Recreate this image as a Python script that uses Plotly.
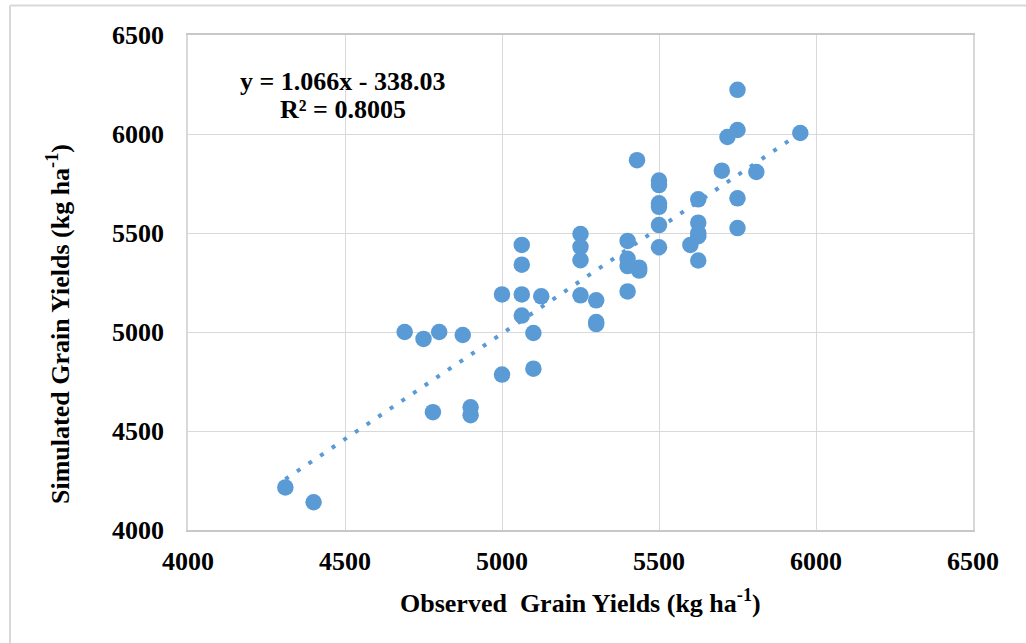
import plotly.graph_objects as go

# Observed vs simulated grain yields (kg ha-1)
observed = [4310, 4400, 4690, 4750, 4800, 4875, 4780, 4900, 4900, 5000,
            5100, 5100, 5000, 5063, 5063, 5125, 5063, 5063, 5300, 5300,
            5300, 5250, 5250, 5250, 5250, 5400, 5400, 5400, 5437, 5437,
            5400, 5430, 5500, 5500, 5500, 5500, 5500, 5500, 5600, 5625,
            5625, 5625, 5625, 5625, 5700, 5718, 5750, 5750, 5750, 5750,
            5810, 5950]
simulated = [4215, 4140, 5000, 4965, 5000, 4985, 4595, 4620, 4580, 4785,
             4815, 4995, 5190, 5190, 5083, 5180, 5340, 5440, 5160, 5050,
             5040, 5495, 5430, 5363, 5185, 5460, 5370, 5333, 5325, 5310,
             5205, 5868, 5765, 5742, 5650, 5632, 5540, 5428, 5440, 5670,
             5552, 5500, 5484, 5361, 5815, 5985, 6020, 6223, 5675, 5525,
             5808, 6005]

# Linear trend reported on the chart
slope = 1.066
intercept = -338.03
r_squared = 0.8005

axis_ticks = [4000, 4500, 5000, 5500, 6000, 6500]

BLUE = "#5B9BD5"
GRID = "#D9D9D9"
FONT = "Liberation Serif"

trend_x = [min(observed), max(observed)]
trend_y = [slope * v + intercept for v in trend_x]

fig = go.Figure()
fig.add_trace(go.Scatter(
    x=trend_x, y=trend_y, mode="lines",
    line=dict(color=BLUE, width=4, dash="4px,10px"),
    hoverinfo="skip", showlegend=False,
))
fig.add_trace(go.Scatter(
    x=observed, y=simulated, mode="markers",
    marker=dict(color=BLUE, size=16.5, line=dict(width=0)),
    showlegend=False,
))

W, H = 1026, 643
L, R, T, B = 188, 53, 35, 113
pw, ph = W - L - R, H - T - B


def px_x(p):
    return (p - L) / pw


def px_y(p):
    return (H - B - p) / ph


tick_font = dict(family=FONT, size=26, color="#000000", weight="bold")
label_font = dict(family=FONT, size=26, color="#000000")

fig.update_layout(
    width=W, height=H,
    margin=dict(l=L, r=R, t=T, b=B, pad=0),
    paper_bgcolor="white", plot_bgcolor="white",
    font=dict(family=FONT, color="#000000"),
    xaxis=dict(
        range=[axis_ticks[0], axis_ticks[-1]], tickvals=axis_ticks,
        ticktext=[str(t) for t in axis_ticks],
        showgrid=True, gridcolor=GRID, gridwidth=1.3,
        showline=True, linecolor="#C8C8C8", linewidth=1.5, mirror=True,
        zeroline=False, ticks="", ticklabelstandoff=7,
        tickfont=tick_font,
    ),
    yaxis=dict(
        range=[axis_ticks[0], axis_ticks[-1]], tickvals=axis_ticks,
        ticktext=[str(t) for t in axis_ticks],
        showgrid=True, gridcolor=GRID, gridwidth=1.3,
        showline=True, linecolor=GRID, linewidth=1.5, mirror=True,
        zeroline=False, ticks="", ticklabelstandoff=17,
        tickfont=tick_font,
    ),
    annotations=[
        dict(text=f"<b>y = {slope}x - {abs(intercept):.2f}</b>",
             xref="paper", yref="paper", x=px_x(342), y=px_y(82),
             xanchor="center", yanchor="middle", showarrow=False,
             font=label_font),
        dict(text=f"<b>R² = {r_squared}</b>",
             xref="paper", yref="paper", x=px_x(343), y=px_y(110),
             xanchor="center", yanchor="middle", showarrow=False,
             font=label_font),
        dict(text="<b>Observed  Grain Yields (kg ha<sup>-1</sup>)</b>",
             xref="paper", yref="paper", x=0.5, y=px_y(601),
             xanchor="center", yanchor="middle", showarrow=False,
             font=label_font),
        dict(text="<b>Simulated Grain Yields (kg ha<sup>-1</sup>)</b>",
             xref="paper", yref="paper", x=px_x(58), y=px_y(324),
             xanchor="center", yanchor="middle", showarrow=False, textangle=-90,
             font=label_font),
    ],
    shapes=[
        # chart frame (top and left edges)
        dict(type="line", xref="paper", yref="paper",
             x0=px_x(10), x1=px_x(W + 2), y0=px_y(5.5), y1=px_y(5.5),
             line=dict(color=GRID, width=2)),
        dict(type="line", xref="paper", yref="paper",
             x0=px_x(10), x1=px_x(10), y0=px_y(5.5), y1=px_y(H + 2),
             line=dict(color=GRID, width=2)),
    ],
)

fig.write_html("out.html")
